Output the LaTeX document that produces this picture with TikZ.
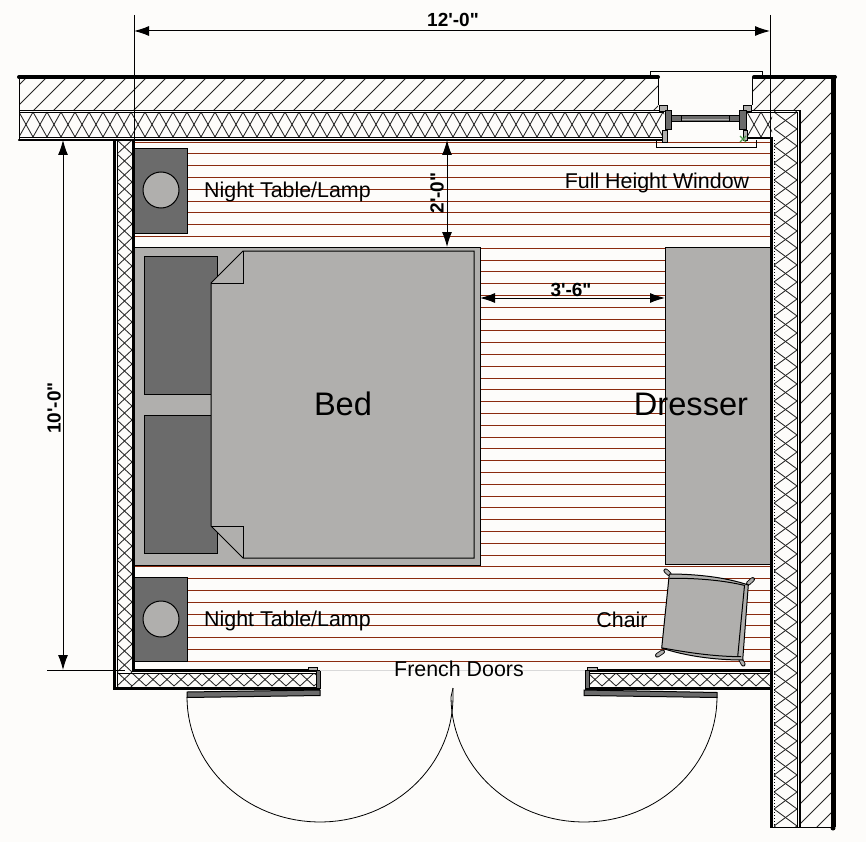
\documentclass[tikz,border=0pt]{standalone}
\usepackage{fontspec}
\setmainfont{Liberation Sans}
\newfontfamily\plainquotes{Liberation Sans}
\usetikzlibrary{arrows.meta}
\definecolor{paper}{HTML}{FDFCFA}
\definecolor{darkfill}{HTML}{6B6B6B}
\definecolor{lightfill}{HTML}{B0AFAD}
\definecolor{floorline}{HTML}{8A2A0E}
\tikzset{
  outline/.style={draw=black,line width=1pt},
  darkpart/.style={outline,fill=darkfill},
  lightpart/.style={outline,fill=lightfill},
  hatchline/.style={draw=black!85,line width=.85pt},
  thin wall/.style={draw=black,line width=1pt},
  heavy wall/.style={draw=black,line width=3pt},
  floor board/.style={draw=floorline,line width=.8pt},
  dimline/.style={draw=black,line width=1pt,{Latex[length=15pt,width=10pt]}-{Latex[length=15pt,width=10pt]}},
  extline/.style={draw=black,line width=.8pt},
  label/.style={inner sep=0pt,font=\fontsize{21.4}{21}\selectfont},
  dimlabel/.style={inner sep=0pt,font=\plainquotes\fontsize{19}{19}\selectfont\bfseries},
  biglabel/.style={inner sep=0pt,font=\fontsize{32.6}{33}\selectfont},
  chairleg/.style={line width=4.5pt,draw=black,line cap=round},
  chairlegin/.style={line width=2.8pt,draw=lightfill,line cap=round}
}
\newcommand\hband[5]{\begin{scope}\clip (#1,#2) rectangle (#3,#4);
  \foreach \k in {0,...,60}{
    \draw[hatchline] ({#1+\k*#5-#5},#2) -- ({#1+\k*#5},#4);
    \draw[hatchline] ({#1+\k*#5},#2) -- ({#1+\k*#5-#5},#4);}
  \end{scope}}
\newcommand\vband[5]{\begin{scope}\clip (#1,#2) rectangle (#3,#4);
  \foreach \k in {0,...,60}{
    \draw[hatchline] (#1,{#2+\k*#5-#5}) -- (#3,{#2+\k*#5});
    \draw[hatchline] (#1,{#2+\k*#5}) -- (#3,{#2+\k*#5-#5});}
  \end{scope}}
\begin{document}
\begin{tikzpicture}[x=1pt,y=-1pt]
\useasboundingbox (0,0) rectangle (866,842);
\fill[paper] (0,0) rectangle (866,842);
% floor boards
\foreach \k in {0,...,44}{\draw[floor board] (134,{142+11.8*\k}) -- (770,{142+11.8*\k});}
% night tables
\draw[darkpart] (134,149) rectangle (187,233);
\draw[lightpart] (161,190) circle[radius=18];
\draw[darkpart] (134,577) rectangle (187,661);
\draw[lightpart] (161,619) circle[radius=18];
% bed
\draw[lightpart] (134,247) rectangle (480,565);
\draw[darkpart] (144,256) rectangle (217,394);
\draw[darkpart] (144,415) rectangle (217,553);
\draw[lightpart] (211,283) -- (243,251) -- (474,251) -- (474,558) -- (243,558) -- (211,526) -- cycle;
\draw[outline] (211,283) -- (243,283) -- (243,251);
\draw[outline] (211,526) -- (243,526) -- (243,558);
% dresser
\draw[lightpart] (665,247) rectangle (771,564);
% chair
\draw[chairleg] (665.7,570.7) -- (669.3,574); \draw[chairlegin] (665.7,570.7) -- (669.3,574);
\draw[chairleg] (752.7,579.3) -- (748.3,583.3); \draw[chairlegin] (752.7,579.3) -- (748.3,583.3);
\draw[chairleg] (657.3,655.3) -- (662.7,651.7); \draw[chairlegin] (657.3,655.3) -- (662.7,651.7);
\draw[chairleg] (743.3,664.3) -- (740,658.3); \draw[chairlegin] (743.3,664.3) -- (740,658.3);
\draw[lightpart] (669.3,574) .. controls (695,574) and (725,577) .. (748.3,585)
  -- (742.7,660) .. controls (715,660) and (685,656) .. (661.7,648) -- cycle;
\draw[outline] (669.3,578.3) .. controls (695,578) and (722,580) .. (745,585.5);
\draw[outline] (744.5,585.5) -- (737.7,656.5);
\draw[outline] (662.5,648) .. controls (685,652) and (712,656.5) .. (741,656.7);
% wall hatching
\begin{scope}
  \clip (19,79) rectangle (658,110) (752,79) rectangle (831,110) (800,110) rectangle (831,827);
  \foreach \k in {0,...,90}{\draw[hatchline] (0,{84+\k*20}) -- ({84+\k*20},0);}
\end{scope}
% insulation
\hband{19}{112}{664}{137}{14}
\hband{747}{112}{772}{137}{14}
\vband{774}{112}{797}{827}{17}
\vband{117}{140}{132}{686}{14}
\hband{132}{673}{316}{686}{14}
\hband{588}{673}{770}{686}{14}
% wall lines: top
\draw[line width=4pt,line cap=round] (19,77) -- (658,77);
\draw[line width=4pt,line cap=round] (754,77) -- (835,77);
\draw[thin wall] (19,77) -- (19,140) (658,77) -- (658,105);
\draw[thin wall] (752,77) -- (752,105);
\draw[thin wall] (19,110.5) -- (664,110.5) (19,112.5) -- (664,112.5) (19,137.5) -- (664,137.5);
\draw[line width=2.2pt,line cap=round] (19,140) -- (664,140);
\draw[thin wall] (746,110.5) -- (800,110.5) (746,112.5) -- (797,112.5);
\draw[line width=2pt] (746,138) -- (772,138);
% wall lines: right
\draw[heavy wall] (771,137) -- (771,827);
\draw[black,line width=.6pt,dash pattern=on 1pt off 2pt] (774,140) -- (774,827);
\draw[thin wall] (797,112.5) -- (797,827);
\draw[line width=1.3pt] (800,110.5) -- (800,827);
\draw[line width=5pt] (833,75) -- (833,827);
\fill[black] (833,828) circle[radius=2.5];
\draw[thin wall] (770,827) -- (835,827);
% wall lines: left
\draw[line width=2.5pt] (114.5,140) -- (114.5,689);
\draw[line width=1pt] (117,140) -- (117,686);
\draw[heavy wall] (133.5,140) -- (133.5,670);
% wall lines: bottom left
\draw[line width=2.5pt] (132,670.5) -- (316,670.5);
\draw[thin wall] (117,673) -- (316,673);
\draw[heavy wall] (113,688) -- (320,688);
\draw[darkpart] (316,670) rectangle (320,688);
\draw[lightpart,line width=.7pt] (308,667) rectangle (317,670);
% wall lines: bottom right
\draw[line width=2.5pt] (588,670.5) -- (772,670.5);
\draw[thin wall] (588,673) -- (770,673);
\draw[heavy wall] (585,688) -- (772,688);
\draw[darkpart] (585,670) rectangle (589,688);
\draw[lightpart,line width=.7pt] (587,667) rectangle (597,670);
\draw[black!15,line width=.7pt] (320,670) -- (585,670);
% doors
\draw[darkpart] (187,692) -- (320,690) -- (320,695.5) -- (187,697.5) -- cycle;
\draw[darkpart] (584,690) -- (717,692.5) -- (717,697.5) -- (584,695.5) -- cycle;
\draw[line width=.8pt] (453,688) -- (453,697) plot[domain=0:180,samples=60] ({320+133*cos(\x)},{697+125*sin(\x)});
\draw[line width=.8pt] (453,688) -- (451,697) plot[domain=180:0,samples=60] ({584+133*cos(\x)},{697+125*sin(\x)});
% window
\draw[line width=.8pt] (650,77) -- (650,71) -- (762,71) -- (762,77);
\draw[line width=.8pt] (656,140) -- (656,147) -- (756,147) -- (756,140);
\draw[lightpart,line width=.7pt] (659,105.5) rectangle (667,111);
\draw[lightpart,line width=.7pt] (743,105.5) rectangle (751,111);
\draw[lightpart,line width=.7pt] (662,130) rectangle (667,142);
\draw[lightpart,line width=.7pt] (743,130) rectangle (747,140);
\draw[darkpart] (681,116) rectangle (730,122);
\draw[lightfill,line width=.7pt] (681,119) -- (730,119);
\draw[darkpart] (671,116) rectangle (681,122);
\draw[darkpart] (729,116) rectangle (739,122);
\draw[darkpart] (665,111) rectangle (671,130);
\draw[darkpart] (739,111) rectangle (746,130);
\draw[darkfill!70!green,line width=1.2pt] (740,136) -- (746,142) (746,136) -- (740,142);
% dimensions
\coordinate (topA) at (134,31); \coordinate (topB) at (770,31);
\coordinate (leftA) at (63,140); \coordinate (leftB) at (63,670);
\coordinate (clearA) at (447,140); \coordinate (clearB) at (447,247);
\coordinate (gapA) at (480,298); \coordinate (gapB) at (665,298);
\draw[extline] (134,15) -- (134,140);
\draw[extline] (770,15) -- (770,140);
\draw[extline] (47,670) -- (125,670);
\draw[dimline] (topA) -- (topB);
\draw[dimline] (leftA) -- (leftB);
\draw[dimline] (clearA) -- (clearB);
\draw[dimline] (gapA) -- (gapB);
% labels
\node[dimlabel] (dimTop) at (453,20) {12'-0"};
\node[dimlabel,rotate=90] (dimLeft) at (54,408) {10'-0"};
\node[dimlabel,rotate=90] (dimClear) at (437,193) {2'-0"};
\node[dimlabel] (dimGap) at (571,290) {3'-6"};
\node[label,anchor=west] (tableA) at (204,192) {Night Table/Lamp};
\node[label,anchor=west] (tableB) at (204,621) {Night Table/Lamp};
\node[label] (windowLabel) at (657,183) {Full Height Window};
\node[biglabel] (bedLabel) at (343,404) {Bed};
\node[biglabel] (dresserLabel) at (691,404) {Dresser};
\node[label] (chairLabel) at (622,620) {Chair};
\node[label] (doorLabel) at (459,669) {French Doors};
\end{tikzpicture}
\end{document}
